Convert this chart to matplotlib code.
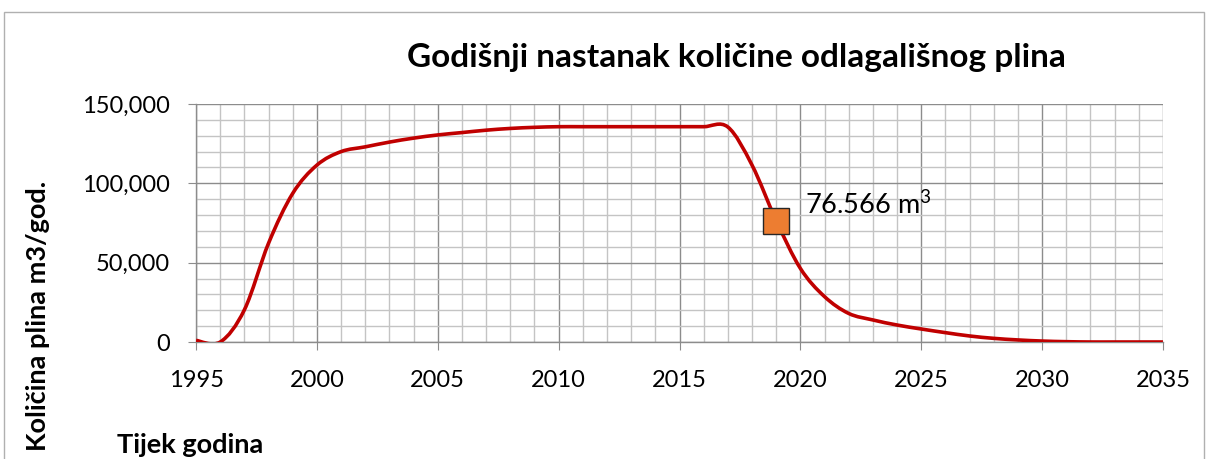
import numpy as np
import matplotlib
matplotlib.use("Agg")
import matplotlib.pyplot as plt
from matplotlib.path import Path
from matplotlib.patches import PathPatch, Rectangle
from matplotlib.ticker import MultipleLocator, FuncFormatter

# data (m3 per year)
years = list(range(1995, 2036))
gas = [1000, 0, 20300, 62300, 93700, 111500, 120000, 123000, 126000, 128500,
       130500, 132000, 133500, 134600, 135300, 135700, 135700, 135700, 135700, 135700,
       135700, 135700, 135500, 111500, 76566, 46400, 28600, 18000, 13900, 10700,
       8200, 5900, 3800, 2300, 1300, 600, 200, 0, 0, 0, 0]
marker_year = 2019
marker_value = 76566
marker_label = "76.566 m$^{\\mathrm{3}}$"

title = "Godišnji nastanak količine odlagališnog plina"
ylabel = "Količina plina m3/god."
xlabel = "Tijek godina"

plt.rcParams["font.family"] = ["Lato", "DejaVu Sans"]
plt.rcParams["mathtext.fontset"] = "custom"
plt.rcParams["mathtext.rm"] = "Lato"


def smooth_path(xs, ys):
    # Excel-style smoothed line: cubic Bezier segments (Catmull-Rom tangents)
    pts = np.column_stack([xs, ys]).astype(float)
    n = len(pts)
    verts = [pts[0]]
    codes = [Path.MOVETO]
    for i in range(n - 1):
        p0 = pts[i - 1] if i > 0 else pts[i]
        p1 = pts[i]
        p2 = pts[i + 1]
        p3 = pts[i + 2] if i + 2 < n else pts[i + 1]
        c1 = p1 + (p2 - p0) / 6
        c2 = p2 - (p3 - p1) / 6
        verts += [c1, c2, p2]
        codes += [Path.CURVE4] * 3
    return Path(verts, codes)


fig = plt.figure(figsize=(12.08, 4.59), dpi=100)
ax = fig.add_axes([0.1623, 0.2549, 0.8004, 0.5185])

ax.add_patch(PathPatch(smooth_path(years, gas), facecolor="none",
                       edgecolor="#C00000", lw=2.6, zorder=3, capstyle="butt"))
ax.plot([marker_year], [marker_value], marker="s", ms=19, mfc="#ED7D31",
        mec="#262626", mew=1.0, zorder=4)
ax.annotate(marker_label, (marker_year, marker_value), xytext=(21, 11),
            textcoords="offset points", fontsize=19.5, va="center", ha="left")

ax.set_xlim(1995, 2035)
ax.set_ylim(0, 150000)
ax.xaxis.set_major_locator(MultipleLocator(5))
ax.xaxis.set_minor_locator(MultipleLocator(1))
ax.yaxis.set_major_locator(MultipleLocator(50000))
ax.yaxis.set_minor_locator(MultipleLocator(10000))
ax.yaxis.set_major_formatter(FuncFormatter(lambda v, p: f"{int(v):,}"))

ax.grid(which="major", color="#8C8C8C", lw=1.0)
ax.grid(which="minor", color="#C4C4C4", lw=1.0)
ax.set_axisbelow(True)

for side in ["top", "right"]:
    ax.spines[side].set_visible(False)
for side in ["left", "bottom"]:
    ax.spines[side].set_color("#8C8C8C")
    ax.spines[side].set_linewidth(1.0)

ax.tick_params(which="major", length=6, color="#8C8C8C", labelsize=17)
ax.tick_params(axis="x", which="major", pad=14)
ax.tick_params(axis="y", which="major", pad=13)
ax.tick_params(which="minor", length=0)

fig.text(0.61, 0.875, title, fontsize=24, fontweight="bold", ha="center", va="center")
fig.text(0.0315, 0.3115, ylabel, fontsize=19.5, fontweight="bold", rotation=90,
         ha="center", va="center")
fig.text(0.097, 0.031, xlabel, fontsize=19.5, fontweight="bold", ha="left", va="center")

fig.patches.append(Rectangle((0.003, -0.1), 0.994, 1.073, transform=fig.transFigure,
                             fill=False, edgecolor="#B0B0B0", lw=1.0))

fig.savefig("out.png", dpi=100)
